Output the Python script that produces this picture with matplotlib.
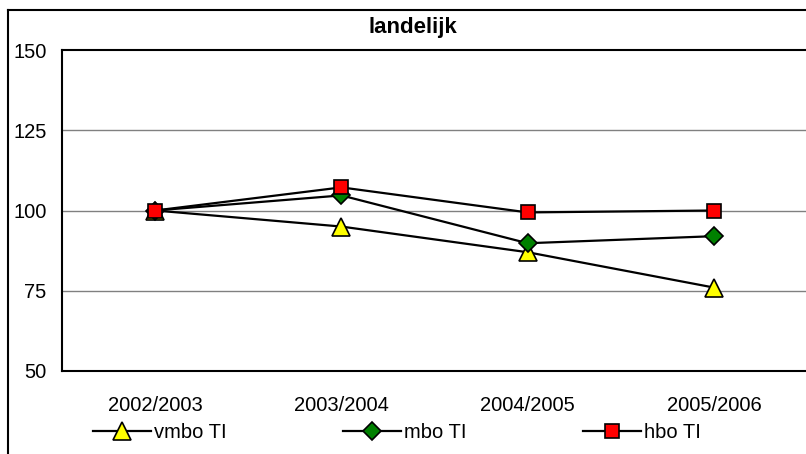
import matplotlib
matplotlib.use("Agg")
import matplotlib.pyplot as plt
from matplotlib.lines import Line2D

categories = ["2002/2003", "2003/2004", "2004/2005", "2005/2006"]
vmbo = [100, 95, 87, 76]
mbo = [100, 104.7, 89.8, 92]
hbo = [100, 107.2, 99.4, 100]
yticks = [50, 75, 100, 125, 150]

plt.rcParams['font.family'] = ['Liberation Sans', 'DejaVu Sans']

W, H = 806, 454
fig = plt.figure(figsize=(W / 100, H / 100), dpi=100)
ax = fig.add_axes([62 / W, 1 - 371 / H, (807 - 62) / W, (371 - 50) / H])

x = list(range(len(categories)))
ax.plot(x, vmbo, color='black', lw=1.6, marker='^', markersize=13.5,
        markerfacecolor='#FFFF00', markeredgecolor='black', markeredgewidth=1.2,
        label='vmbo TI', zorder=3, clip_on=False)
ax.plot(x, mbo, color='black', lw=1.6, marker='D', markersize=9.2,
        markerfacecolor='#008000', markeredgecolor='black', markeredgewidth=1.2,
        label='mbo TI', zorder=4, clip_on=False)
ax.plot(x, hbo, color='black', lw=1.6, marker='s', markersize=10,
        markerfacecolor='#FF0000', markeredgecolor='black', markeredgewidth=1.2,
        label='hbo TI', zorder=5, clip_on=False)

ax.set_xlim(-0.5, 3.5)
ax.set_ylim(50, 150)
ax.set_xticks(x)
ax.set_xticklabels(categories)
ax.set_yticks(yticks)
ax.tick_params(axis='both', length=0, labelsize=14.5)
ax.tick_params(axis='x', pad=18)
ax.tick_params(axis='y', pad=11)
for yv in [75, 100, 125]:
    ax.axhline(yv, color='#808080', lw=1.0, zorder=1)
for s in ['left', 'bottom', 'top']:
    ax.spines[s].set_linewidth(1.5)
    ax.spines[s].set_color('black')
ax.spines['right'].set_visible(False)

fig.text(413 / W, 1 - 27 / H, "landelijk", ha='center', va='center',
         fontsize=16, fontweight='bold')

# outer chart frame
fig.add_artist(Line2D([8 / W, 1.01], [1 - 10 / H, 1 - 10 / H], transform=fig.transFigure,
                      color='black', lw=1.5))
fig.add_artist(Line2D([8 / W, 8 / W], [1 - 10 / H, -0.01], transform=fig.transFigure,
                      color='black', lw=1.5))

handles, labels = ax.get_legend_handles_labels()
fig.legend(handles, labels, loc='center left', bbox_to_anchor=(93 / W, 1 - 433 / H),
           ncol=3, frameon=False, fontsize=14.5, handlelength=2.9, handletextpad=0.15,
           columnspacing=5.75, borderpad=0, borderaxespad=0)

fig.savefig("out.png", dpi=100)
